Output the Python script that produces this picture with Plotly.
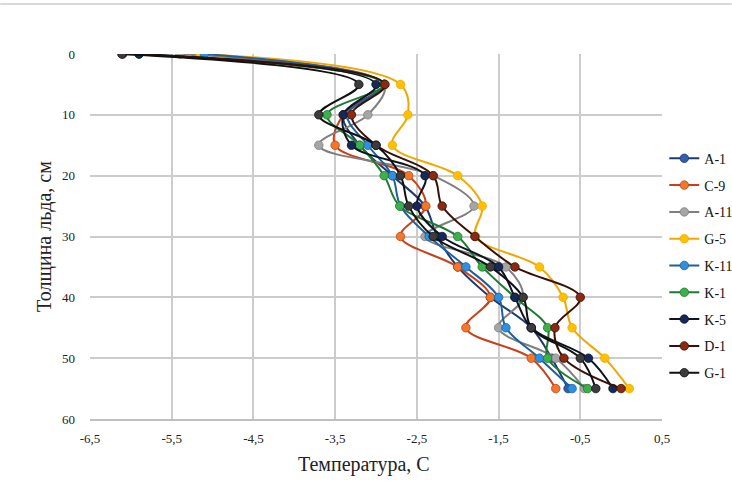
import plotly.graph_objects as go

depths = [0, 5, 10, 15, 20, 25, 30, 35, 40, 45, 50, 55]

series_names = ["A-1", "C-9", "A-11", "G-5", "K-11", "K-1", "K-5", "D-1", "G-1"]

a1 = [-5.2, -2.9, -3.4, -3.2, -2.8, -2.4, -2.25, -2.0, -1.6, -1.1, -0.85, -0.65]
c9 = [-5.2, -2.9, -3.4, -3.5, -2.6, -2.39, -2.7, -2.0, -1.6, -1.9, -1.1, -0.8]
a11 = [-5.4, -2.9, -3.1, -3.7, -2.3, -1.8, -2.4, -1.41, -1.2, -1.5, -0.8, -0.45]
g5 = [-5.15, -2.7, -2.61, -2.8, -2.0, -1.7, -1.78, -1.0, -0.71, -0.6, -0.2, 0.1]
k11 = [-5.1, -2.9, -3.35, -3.1, -2.8, -2.7, -2.35, -1.9, -1.5, -1.41, -1.0, -0.6]
k1 = [-5.9, -2.9, -3.6, -3.2, -2.9, -2.71, -2.0, -1.7, -1.3, -0.9, -0.9, -0.41]
k5 = [-5.9, -3.0, -3.4, -3.3, -2.4, -2.5, -2.19, -1.5, -1.3, -1.1, -0.4, -0.1]
d1 = [-6.1, -2.89, -3.3, -3.0, -2.3, -2.19, -1.79, -1.3, -0.5, -0.81, -0.7, 0.0]
g1 = [-6.11, -3.21, -3.7, -3.0, -2.7, -2.6, -2.3, -1.6, -1.2, -1.1, -0.5, -0.31]

series_values = [a1, c9, a11, g5, k11, k1, k5, d1, g1]

line_colors = ["#1f3a70", "#c8401a", "#7f7f7f", "#f0a800", "#1f5f9a",
               "#1e7a30", "#0e1420", "#3a1005", "#111111"]
marker_colors = ["#2f5fae", "#f07828", "#a5a5a5", "#ffc000", "#2e90e0",
                 "#3cb04a", "#14285a", "#8b2a10", "#3c3c3c"]

x_tick_vals = [-6.5, -5.5, -4.5, -3.5, -2.5, -1.5, -0.5, 0.5]
x_tick_labels = ["-6,5", "-5,5", "-4,5", "-3,5", "-2,5", "-1,5", "-0,5", "0,5"]
y_tick_vals = [0, 10, 20, 30, 40, 50, 60]
y_tick_labels = ["0", "10", "20", "30", "40", "50", "60"]

x_title = "Температура, С"
y_title = "Толщина льда, см"

FONT = "Liberation Serif, Times New Roman, serif"

fig = go.Figure()
for i, (name, vals) in enumerate(zip(series_names, series_values)):
    fig.add_trace(go.Scatter(
        x=vals, y=depths, name=name, mode="lines+markers",
        legendgroup=name,
        line=dict(color=line_colors[i], width=2, shape="spline", smoothing=1),
        marker=dict(color=marker_colors[i], size=8.5,
                    line=dict(color=line_colors[i], width=0.8)),
    ))

fig.update_layout(
    width=732, height=483,
    margin=dict(l=90, r=70, t=54, b=64, autoexpand=False),
    paper_bgcolor="white", plot_bgcolor="white",
    font=dict(family=FONT, size=13, color="#222222"),
    showlegend=True,
    legend=dict(x=1.004, y=0.757, xanchor="left", yanchor="top",
                font=dict(family=FONT, size=14, color="#111111"),
                itemwidth=30, tracegroupgap=5.6,
                bgcolor="rgba(0,0,0,0)"),
    xaxis=dict(range=[-6.5, 0.5], tickvals=x_tick_vals, ticktext=x_tick_labels,
               showgrid=True, gridcolor="#cccccc", gridwidth=1.5,
               zeroline=False, showline=True, linecolor="#bfbfbf", linewidth=1.5,
               ticks="", ticklabelstandoff=7,
               tickfont=dict(family=FONT, size=13, color="#222222")),
    yaxis=dict(range=[60, 0], tickvals=y_tick_vals, ticktext=y_tick_labels,
               showgrid=True, gridcolor="#cccccc", gridwidth=1.5,
               zeroline=False, showline=False, ticks="", ticklabelstandoff=14,
               tickfont=dict(family=FONT, size=13, color="#222222"),
               title=dict(text=y_title, font=dict(family=FONT, size=20, color="#222222"),
                          standoff=5)),
)

fig.add_annotation(text=x_title, xref="paper", yref="paper", x=0.479, y=-0.126,
                   xanchor="center", yanchor="middle", showarrow=False,
                   font=dict(family=FONT, size=20, color="#222222"))

fig.add_shape(type="line", xref="paper", yref="paper",
              x0=-0.157, x1=1.122, y0=1.137, y1=1.137,
              line=dict(color="#cccccc", width=1.5))

fig.write_html("out.html", config={"displayModeBar": False},
               post_script="document.body.style.margin='0';")
